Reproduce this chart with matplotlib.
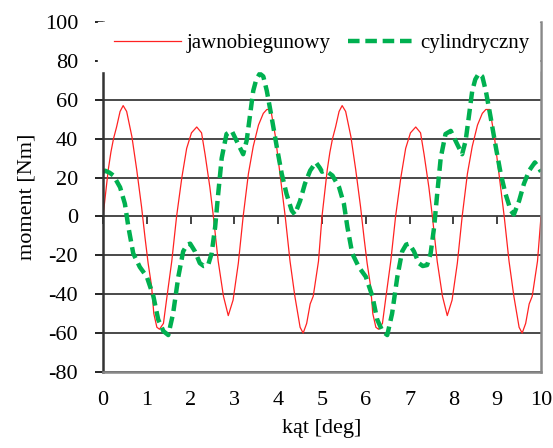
import matplotlib.pyplot as plt
import numpy as np

plt.rcParams['font.family'] = ['Liberation Serif', 'DejaVu Serif']
plt.rcParams['axes.unicode_minus'] = False

# kąt [deg]
kat_j = [0, 0.06, 0.12, 0.18, 0.24, 0.31, 0.39, 0.46, 0.54, 0.66,
         0.77, 0.88, 0.96, 1.03, 1.11, 1.16, 1.23, 1.29, 1.38, 1.45,
         1.57, 1.68, 1.80, 1.91, 2.02, 2.14, 2.25, 2.33, 2.44, 2.52,
         2.63, 2.75, 2.86, 2.97, 3.09, 3.20, 3.32, 3.43, 3.55, 3.66,
         3.74, 3.83, 3.93, 4.04, 4.16, 4.27, 4.38, 4.50, 4.57, 4.65,
         4.73, 4.80, 4.92,
         5.00, 5.06, 5.12, 5.18, 5.24, 5.31, 5.39, 5.46, 5.54, 5.66,
         5.77, 5.88, 5.96, 6.03, 6.11, 6.16, 6.23, 6.29, 6.38, 6.45,
         6.57, 6.68, 6.80, 6.91, 7.02, 7.14, 7.25, 7.33, 7.44, 7.52,
         7.63, 7.75, 7.86, 7.97, 8.09, 8.20, 8.32, 8.43, 8.55, 8.66,
         8.74, 8.83, 8.93, 9.04, 9.16, 9.27, 9.38, 9.50, 9.57, 9.65,
         9.73, 9.80, 9.92, 10.0]
# moment jawnobiegunowy [Nm]
mom_j = [0, 12, 24, 33, 40, 46, 54, 57, 54, 41,
         24, 5, -11, -24, -36, -50, -57, -58, -55, -43,
         -23, 0, 20, 35, 43, 46, 43, 32, 15, 0,
         -23, -41, -51, -43, -24, 0, 22, 36, 47, 53,
         55, 55, 42, 22, 0, -23, -41, -57, -60, -55,
         -45, -41, -23,
         0, 12, 24, 33, 40, 46, 54, 57, 54, 41,
         24, 5, -11, -24, -36, -50, -57, -58, -55, -43,
         -23, 0, 20, 35, 43, 46, 43, 32, 15, 0,
         -23, -41, -51, -43, -24, 0, 22, 36, 47, 53,
         55, 55, 42, 22, 0, -23, -41, -57, -60, -55,
         -45, -41, -23, 0]

kat_c = [0, 0.05, 0.15, 0.24, 0.39, 0.50, 0.58, 0.69, 0.84, 1.00,
         1.15, 1.26, 1.38, 1.49, 1.60, 1.72, 1.83, 1.92, 1.99, 2.10,
         2.21, 2.30, 2.40, 2.48, 2.56, 2.63, 2.71, 2.82, 2.94, 3.09,
         3.20, 3.28, 3.36, 3.43, 3.50, 3.58, 3.66, 3.74, 3.85, 3.97,
         4.08, 4.19, 4.31, 4.38, 4.50, 4.61, 4.73, 4.86, 4.95,
         5.00, 5.05, 5.15, 5.24, 5.39, 5.50, 5.58, 5.69, 5.84, 6.00,
         6.15, 6.26, 6.38, 6.49, 6.60, 6.72, 6.83, 6.92, 6.99, 7.10,
         7.21, 7.30, 7.40, 7.48, 7.56, 7.63, 7.71, 7.82, 7.94, 8.09,
         8.20, 8.28, 8.36, 8.43, 8.50, 8.58, 8.66, 8.74, 8.85, 8.97,
         9.08, 9.19, 9.31, 9.38, 9.50, 9.61, 9.73, 9.86, 9.95, 10.0]
# moment cylindryczny [Nm]
mom_c = [23, 23.5, 22.5, 21, 15, 6.5, -5.5, -19, -26, -31,
         -41, -53, -59, -61, -50, -31, -18, -14.5, -14, -18,
         -24, -25.5, -25, -19, -5.5, 11.6, 30, 42.4, 44, 37,
         32, 39, 52.6, 64.6, 70.5, 73.5, 72, 64.6, 51, 35.5,
         22, 11.6, 3, 1, 8, 16.8, 23.6, 27.8, 25,
         23, 23.5, 22.5, 21, 15, 6.5, -5.5, -19, -26, -31,
         -41, -53, -59, -61, -50, -31, -18, -14.5, -14, -18,
         -24, -25.5, -25, -19, -5.5, 11.6, 30, 42.4, 44, 37,
         32, 39, 52.6, 64.6, 70.5, 73.5, 72, 64.6, 51, 35.5,
         22, 11.6, 3, 1, 8, 16.8, 23.6, 27.8, 25, 23]

fig = plt.figure(figsize=(5.53, 4.48), dpi=100)
ax = fig.add_axes([103/553, 1-372/448, 438/553, 350/448])

ax.plot(kat_j, mom_j, color='#ff2222', lw=0.9, zorder=2.2, label='jawnobiegunowy')
ax.plot(kat_c, mom_c, color='#00b050', lw=3.2, dashes=(2.6, 1.3), zorder=2.3, label='cylindryczny')

ax.set_xlim(0, 10)
ax.set_ylim(-80, 100)
ax.set_xticks(np.arange(0, 11, 1))
ax.set_yticks(np.arange(-80, 101, 20))
ax.tick_params(axis='x', length=0, pad=14, labelsize=16)
ax.tick_params(axis='y', direction='out', length=6, width=1.2, pad=12, labelsize=16)
ax.grid(axis='y', color='#3a3a3a', lw=1.3)
ax.set_axisbelow(True)

ax.spines['top'].set_visible(False)
ax.spines['left'].set_color('#333333')
ax.spines['left'].set_linewidth(1.8)
ax.spines['bottom'].set_color('#888888')
ax.spines['bottom'].set_linewidth(1.8)
ax.spines['right'].set_color('#888888')
ax.spines['right'].set_linewidth(1.8)
for s in ax.spines.values():
    s.set_zorder(3)

# znaczniki osi x na linii zera
secax = ax.secondary_xaxis(80/180)
secax.set_xticks(np.arange(0, 11, 1))
secax.tick_params(direction='out', length=6, width=1.2, labelbottom=False, color='#222222')
for s in secax.spines.values():
    s.set_visible(False)

# białe tło pod legendą
ax.axhspan(75, 100, xmin=-0.011, xmax=0.995, color='white', zorder=3.5, clip_on=False)

leg = ax.legend(loc='upper center', bbox_to_anchor=(0.5, 1.02), ncol=2, frameon=False,
                fontsize=15, handlelength=3.2, handletextpad=0.3, columnspacing=0.8)
leg.set_zorder(4)

ax.set_xlabel('kąt [deg]', fontsize=16, labelpad=6)
ax.set_ylabel('moment [Nm]', fontsize=16, labelpad=6)

plt.savefig('out.png', dpi=100)
